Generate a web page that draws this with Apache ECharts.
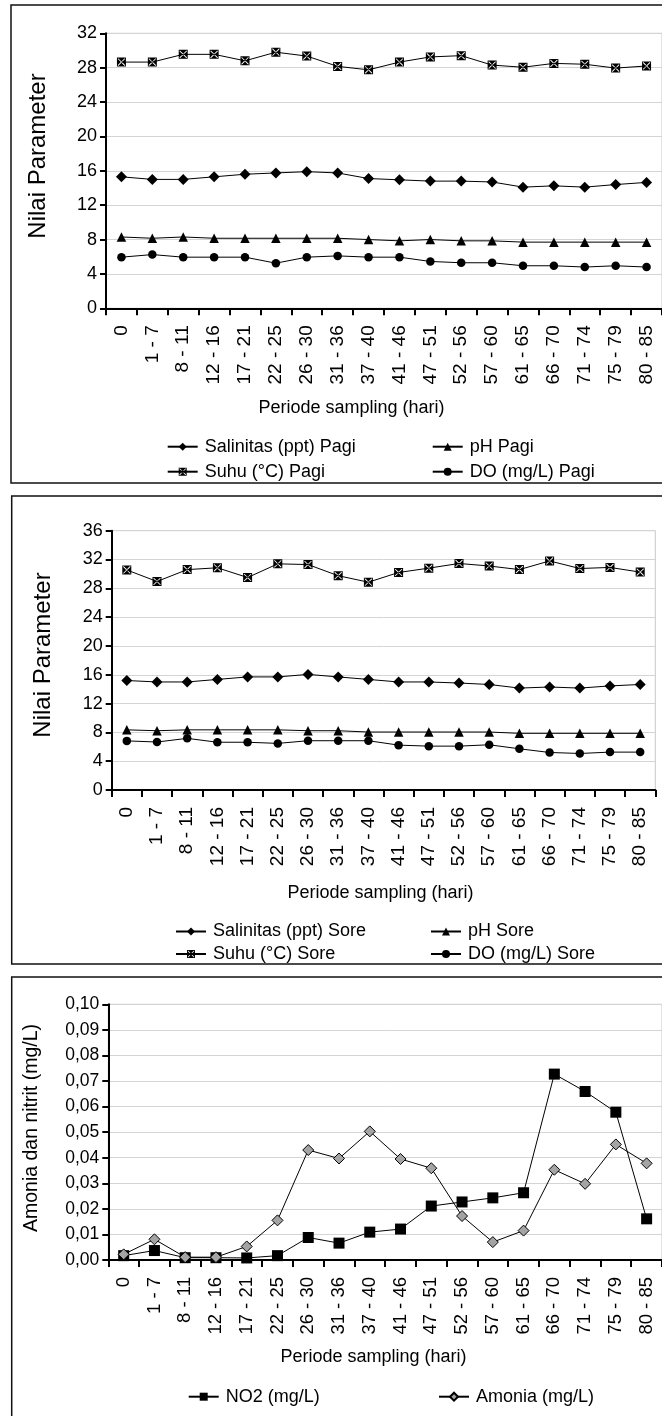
<!DOCTYPE html>
<html>
<head>
<meta charset="utf-8">
<script src="https://cdn.jsdelivr.net/npm/echarts@6/dist/echarts.min.js"></script>
<style>
html,body{margin:0;padding:0;background:#fff;}
#chart{width:662px;height:1416px;}
</style>
</head>
<body>
<div id="chart"></div>
<script>
// ---- data ----
const categories = ['0','1 - 7','8 - 11','12 - 16','17 - 21','22 - 25','26 - 30','31 - 36','37 - 40','41 - 46','47 - 51','52 - 56','57 - 60','61 - 65','66 - 70','71 - 74','75 - 79','80 - 85'];

const salinitasPagi = [15.3, 15.0, 15.0, 15.3, 15.6, 15.75, 15.9, 15.75, 15.1, 14.95, 14.8, 14.8, 14.7, 14.1, 14.25, 14.1, 14.4, 14.65];
const phPagi        = [8.3, 8.15, 8.3, 8.15, 8.15, 8.15, 8.15, 8.15, 8.0, 7.85, 8.0, 7.85, 7.85, 7.7, 7.7, 7.7, 7.7, 7.7];
const suhuPagi      = [28.65, 28.65, 29.55, 29.55, 28.8, 29.8, 29.35, 28.15, 27.75, 28.65, 29.25, 29.4, 28.3, 28.05, 28.5, 28.4, 27.95, 28.2];
const doPagi        = [5.95, 6.25, 5.95, 5.95, 5.95, 5.25, 5.95, 6.1, 5.95, 5.95, 5.45, 5.3, 5.3, 4.95, 4.95, 4.8, 4.95, 4.8];

const salinitasSore = [15.2, 15.0, 15.0, 15.35, 15.7, 15.7, 16.05, 15.7, 15.35, 15.0, 15.0, 14.85, 14.65, 14.15, 14.3, 14.15, 14.45, 14.65];
const phSore        = [8.35, 8.23, 8.35, 8.35, 8.35, 8.35, 8.23, 8.23, 8.05, 8.05, 8.05, 8.05, 8.05, 7.87, 7.87, 7.87, 7.87, 7.87];
const suhuSore      = [30.55, 28.95, 30.6, 30.85, 29.5, 31.4, 31.3, 29.75, 28.85, 30.2, 30.8, 31.45, 31.1, 30.6, 31.8, 30.75, 30.9, 30.25];
const doSore        = [6.82, 6.66, 7.17, 6.63, 6.63, 6.47, 6.84, 6.84, 6.84, 6.23, 6.09, 6.09, 6.28, 5.72, 5.21, 5.07, 5.26, 5.26];

const no2    = [0.0017, 0.0037, 0.0009, 0.0009, 0.0008, 0.0017, 0.0088, 0.0066, 0.0109, 0.0121, 0.0211, 0.0227, 0.0243, 0.0263, 0.0727, 0.0659, 0.0578, 0.0161];
const amonia = [0.0022, 0.0081, 0.0011, 0.0011, 0.0053, 0.0155, 0.0430, 0.0397, 0.0503, 0.0395, 0.0359, 0.0172, 0.0070, 0.0115, 0.0353, 0.0298, 0.0452, 0.0378];

const yLabels1 = ['0','4','8','12','16','20','24','28','32'];
const yLabels2 = ['0','4','8','12','16','20','24','28','32','36'];
const yLabels3 = ['0,00','0,01','0,02','0,03','0,04','0,05','0,06','0,07','0,08','0,09','0,10'];

// ---- styles ----
const FONT = "'Liberation Sans', Arial, sans-serif";
// black square with a thin white "x" inside
const suhuSymbol = 'path://M0 0H10V10H0Z M1 1V9H9V1Z M1.7 1L8.3 1L5 4.3Z M1.7 9L8.3 9L5 5.7Z M1 1.7L1 8.3L4.3 5Z M9 1.7L9 8.3L5.7 5Z';

function xAxis(gridIndex, fs) {
  return {
    type: 'category', gridIndex, data: categories, boundaryGap: true,
    axisLine: {lineStyle: {color: '#000', width: 2}},
    axisTick: {show: true, length: 7, lineStyle: {color: '#000', width: 2}},
    axisLabel: {rotate: 90, interval: 0, margin: 17, color: '#000', fontFamily: FONT, fontSize: fs},
    splitLine: {show: false}
  };
}
function yAxis(gridIndex, max, interval, labels, fs) {
  return {
    type: 'value', gridIndex, min: 0, max, interval,
    axisLine: {show: true, lineStyle: {color: '#000', width: 2}},
    axisTick: {show: true, length: 6, lineStyle: {color: '#000', width: 2}},
    axisLabel: {margin: 9, color: '#000', fontFamily: FONT, fontSize: fs,
      formatter: (v, i) => labels[i] !== undefined ? labels[i] : String(v)},
    splitLine: {show: true, lineStyle: {color: '#d4d4d4', width: 1}}
  };
}
function lineSeries(name, data, idx, symbol, size, fill) {
  return {
    name, type: 'line', xAxisIndex: idx, yAxisIndex: idx, data,
    symbol, symbolSize: size, showSymbol: true,
    lineStyle: {color: '#000', width: 1},
    itemStyle: {color: fill || '#000', borderColor: '#000', borderWidth: fill ? 1 : 0, opacity: 1},
    emphasis: {disabled: true}, z: 3
  };
}
function legend(items, left, centerY, gap) {
  return {
    data: items, orient: 'vertical', left, top: centerY - 9, padding: 0,
    itemGap: gap, itemWidth: 30, itemHeight: 10, selectedMode: false,
    textStyle: {color: '#000', fontFamily: FONT, fontSize: 18, padding: [0, 0, 0, 2]}
  };
}
function txt(text, x, y, size, rot) {
  return {type: 'text', x, y, rotation: rot ? Math.PI / 2 : 0,
    style: {text, fill: '#000', font: size + 'px ' + FONT, align: 'center', verticalAlign: 'middle'}};
}
function box(x, y, w, h) {
  return {type: 'rect', shape: {x, y, width: w, height: h}, style: {fill: 'none', stroke: '#111', lineWidth: 1.5}, z: 0};
}

const option = {
  animation: false,
  backgroundColor: '#fff',
  grid: [
    {left: 106, top: 33.3, width: 558, height: 275, show: true, borderColor: '#c8c8c8', borderWidth: 1, backgroundColor: 'transparent'},
    {left: 111.7, top: 530.7, width: 543.6, height: 259.3, show: true, borderColor: '#c8c8c8', borderWidth: 1, backgroundColor: 'transparent'},
    {left: 108.3, top: 1004.3, width: 558, height: 255.7, show: true, borderColor: '#c8c8c8', borderWidth: 1, backgroundColor: 'transparent'}
  ],
  xAxis: [xAxis(0, 19), xAxis(1, 19), xAxis(2, 18.5)],
  yAxis: [
    yAxis(0, 32, 4, yLabels1, 18),
    yAxis(1, 36, 4, yLabels2, 18),
    yAxis(2, 0.1, 0.01, yLabels3, 17.5)
  ],
  legend: [
    legend(['Salinitas (ppt) Pagi', 'Suhu (°C) Pagi'], 166.7, 446.7, 7),
    legend(['pH Pagi', 'DO (mg/L) Pagi'], 431.7, 446.7, 7),
    legend(['Salinitas (ppt) Sore', 'Suhu (°C) Sore'], 175, 931.5, 4.5),
    legend(['pH Sore', 'DO (mg/L) Sore'], 430, 931.5, 4.5),
    legend(['NO2 (mg/L)'], 187.7, 1396.7, 5),
    legend(['Amonia (mg/L)'], 438, 1396.7, 5)
  ],
  graphic: [
    box(11, 5, 720, 478),
    box(11.7, 496, 720, 468),
    box(11.7, 977, 720, 520),
    txt('Nilai Parameter', 38.5, 156, 24, true),
    txt('Nilai Parameter', 43.3, 655, 24, true),
    txt('Amonia dan nitrit (mg/L)', 31.7, 1128, 19.5, true),
    txt('Periode sampling (hari)', 351.5, 408, 18, false),
    txt('Periode sampling (hari)', 380.5, 893, 18, false),
    txt('Periode sampling (hari)', 373.5, 1357, 18, false)
  ],
  series: [
    lineSeries('Salinitas (ppt) Pagi', salinitasPagi, 0, 'diamond', 11),
    lineSeries('pH Pagi', phPagi, 0, 'triangle', 9.5),
    lineSeries('Suhu (°C) Pagi', suhuPagi, 0, suhuSymbol, 9),
    lineSeries('DO (mg/L) Pagi', doPagi, 0, 'circle', 8.5),
    lineSeries('Salinitas (ppt) Sore', salinitasSore, 1, 'diamond', 11),
    lineSeries('pH Sore', phSore, 1, 'triangle', 9.5),
    lineSeries('Suhu (°C) Sore', suhuSore, 1, suhuSymbol, 9),
    lineSeries('DO (mg/L) Sore', doSore, 1, 'circle', 8.5),
    lineSeries('NO2 (mg/L)', no2, 2, 'rect', 11),
    lineSeries('Amonia (mg/L)', amonia, 2, 'diamond', 11, '#a4a4a4')
  ]
};

const chart = echarts.init(document.getElementById('chart'), null, {renderer: 'canvas'});
chart.setOption(option);
</script>
</body>
</html>
